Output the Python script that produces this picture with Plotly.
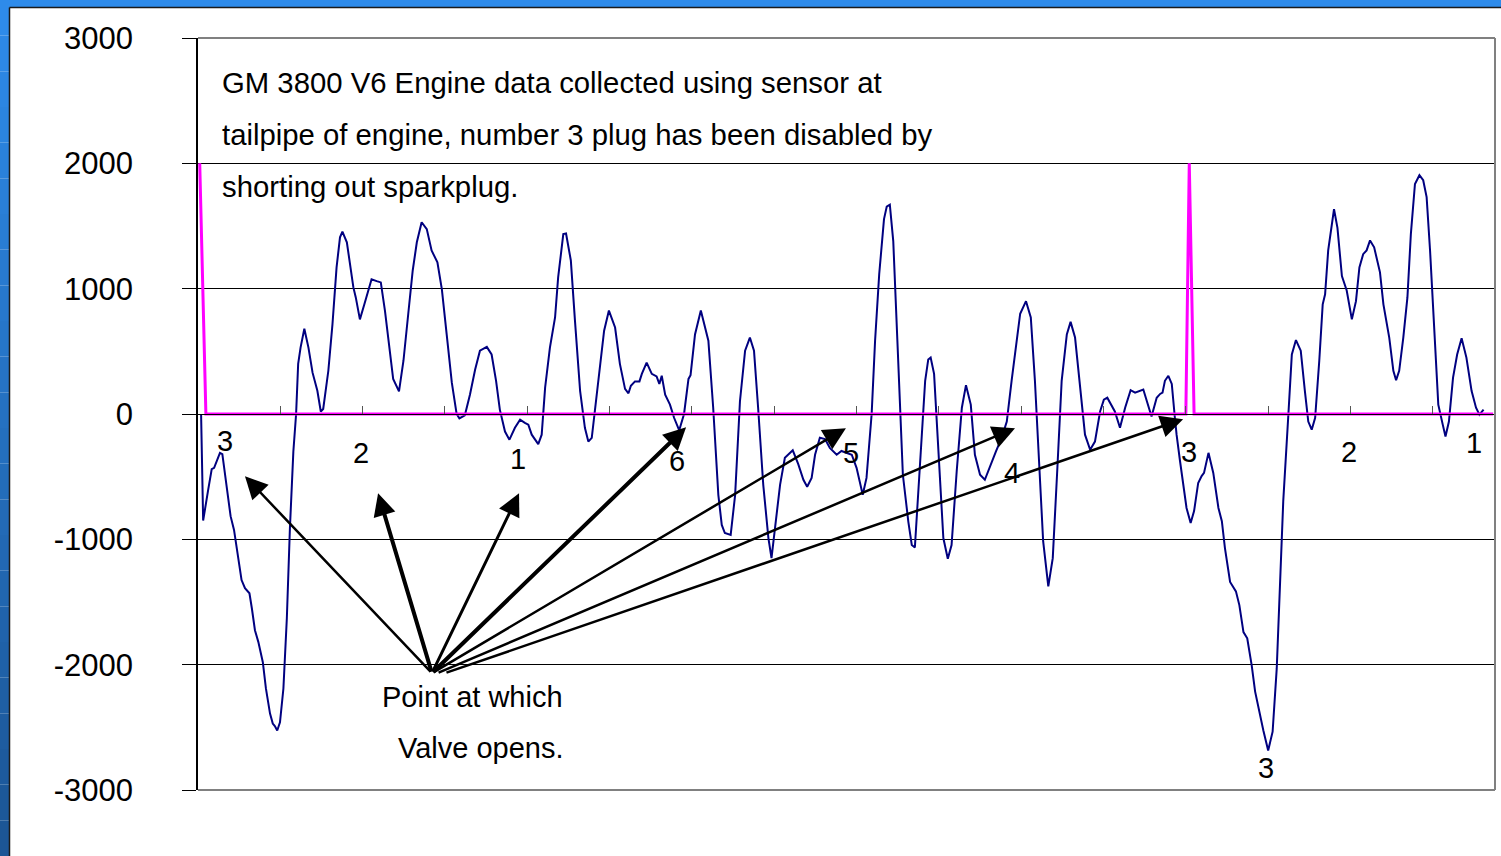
import plotly.graph_objects as go

# exhaust pressure sensor trace (blue), sample number vs. reading
sample = [
    0.9, 1.5, 3.0, 4.0, 4.7, 5.5, 6.4, 7.1, 8.4, 9.5, 10.5, 11.3, 12.7, 13.7, 15.0, 15.7,
    16.6, 17.6, 18.9, 19.8, 21.0, 21.8, 22.4, 23.1, 23.9, 24.9, 25.9, 26.8, 27.8, 28.6,
    29.2, 29.9, 31.0, 32.2, 33.4, 34.8, 35.8, 36.5, 38.0, 39.2, 40.4, 41.4, 42.1, 43.4,
    44.3, 45.3, 46.0, 47.2, 48.5, 49.7, 50.6, 52.1, 53.3, 54.5, 55.8, 56.9, 58.6, 59.9,
    61.3, 62.6, 63.8, 65.2, 66.7, 68.1, 69.8, 71.1, 72.5, 74.0, 75.4, 76.2, 77.8, 79.3,
    80.8, 82.2, 84.2, 85.6, 86.9, 88.0, 89.5, 90.8, 92.4, 93.9, 95.3, 96.3, 97.3, 99.2,
    100.2, 101.2, 102.6, 104.1, 105.0, 106.5, 107.3, 108.7, 109.9, 111.4, 112.8, 113.8,
    114.8, 115.7, 117.0, 118.4, 119.8, 121.6, 123.0, 124.5, 125.5, 126.2, 127.4, 128.7,
    129.4, 130.8, 132.3, 133.7, 134.5, 135.2, 136.2, 137.6, 138.8, 140.3, 141.7, 143.0,
    143.6, 144.9, 146.6, 148.8, 150.2, 151.7, 152.7, 153.6, 155.3, 156.6, 158.0, 159.5,
    160.9, 162.1, 163.3, 164.8, 166.3, 167.2, 169.7, 171.1, 173.4, 175.0, 176.5, 177.6,
    178.9, 179.9, 181.3, 182.8, 184.2, 186.2, 187.6, 189.1, 190.6, 192.0, 193.5, 193.8,
    194.9, 196.4, 197.4, 198.6, 200.0, 200.8, 201.7, 202.7, 203.9, 205.5, 207.1, 208.1,
    209.0, 210.5, 212.0, 212.9, 213.6, 214.6, 215.8, 217.3, 218.6, 219.7, 221.2, 222.7,
    223.9, 225.3, 226.5, 228.0, 229.4, 230.9, 232.7, 234.3, 235.8, 237.2, 238.7, 239.7,
    241.4, 242.8, 244.0, 245.3, 246.4, 247.9, 249.2, 250.5, 251.8, 253.3, 254.4, 255.7,
    257.1, 258.6, 260.1, 261.5, 263.0, 264.1, 265.1, 267.3, 268.8, 270.3, 271.9, 273.2,
    275.6, 277.1, 278.0, 279.5, 280.5, 281.2, 281.9, 282.9, 283.9, 284.8, 285.3, 286.3,
    287.3, 288.2, 289.4, 290.4, 291.6, 292.6, 293.3, 294.6, 296.0, 297.5, 298.5, 299.4,
    300.9, 302.6, 303.6, 304.8, 305.9, 307.2, 308.2, 309.4, 310.6, 312.0, 313.3, 314.5,
    315.5, 316.4, 317.9, 318.9, 320.1, 321.5, 322.7, 323.7, 324.7, 325.7, 326.9, 327.9,
    328.6, 329.5, 331.2, 332.2, 333.5, 334.9, 336.4, 337.6, 338.6, 339.7, 340.7, 341.7,
    342.9, 344.6, 345.6, 347.3, 348.5, 349.3, 350.2, 351.4, 352.6, 353.6, 354.8, 356.1,
    357.2, 358.2, 359.2, 360.3, 361.6, 362.9, 363.7, 364.7, 365.9, 367.1, 368.4, 369.8,
    371.3, 372.6, 373.6, 374.8,
]
reading = [
    0, -850, -600, -440, -430, -375, -310, -320, -590, -815, -925, -1070, -1325, -1390, -1430, -1550,
    -1725, -1820, -1980, -2190, -2390, -2470, -2490, -2525, -2460, -2190, -1630, -910, -300, 0,
    400, 530, 680, 530, 330, 185, 20, 40, 345, 715, 1170, 1410, 1455, 1370,
    1195, 1010, 930, 755, 875, 995, 1075, 1060, 1050, 825, 505, 280, 180, 425,
    800, 1145, 1370, 1530, 1475, 1305, 1210, 995, 635, 250, 0, -35, -10, 155,
    355, 505, 535, 475, 265, 35, -140, -205, -110, -45, -70, -85, -165, -240,
    -165, 210, 530, 770, 1090, 1435, 1440, 1225, 745, 185, -110, -220,
    -190, 25, 320, 665, 825, 690, 400, 200, 165, 225, 260, 260,
    320, 410, 320, 300, 240, 305, 155, 75, -30, -130, 0, 280,
    310, 635, 825, 585, 50, -645, -885, -950, -965, -645, 100, 505,
    610, 505, 50, -565, -990, -1150, -565, -350, -290, -400, -525, -580,
    -510, -325, -190, -200, -270, -325, -295, -310, -325, -430, -615, -645,
    -510, 0, 585, 1115, 1555, 1655, 1670, 1380, 585, -485, -860, -1045,
    -1065, -405, 265, 435, 450, 320, -270, -990, -1155, -1045, -455, 50,
    230, 75, -325, -485, -525, -415, -295, -190, -60, 265, 585, 800,
    900, 770, 265, -405, -1015, -1375, -1150, -455, 265, 635, 735, 610,
    210, -165, -285, -220, 20, 115, 130, 20, -110, 50, 190, 170,
    195, 50, -20, 130, 160, 170, 265, 305, 240, -30, -165, -375,
    -565, -750, -870, -775, -550, -495, -470, -310, -470, -750, -855, -1070,
    -1340, -1415, -1525, -1740, -1790, -2005, -2215, -2375, -2525, -2685, -2535, -2030,
    -1285, -695, 0, 475, 590, 505, 185, -60, -125, -30, 425, 875,
    955, 1305, 1635, 1485, 1100, 985, 755, 900, 1170, 1275, 1305, 1385,
    1330, 1130, 875, 610, 345, 270, 345, 610, 930, 1435, 1835, 1905,
    1865, 1730, 1305, 690, 75, -85, -180, -60, 290, 475, 605, 450,
    185, 50, -5, 35,
]

# trigger pulse on the no. 3 plug wire (magenta)
trig_sample = [0.5, 2.3, 288.0, 289.0, 290.4, 377.6]
trig_level = [2000, 0, 0, 2000, 0, 0]

y_ticks = [3000, 2000, 1000, 0, -1000, -2000, -3000]
x_ticks = [24 * k for k in range(1, 16)]

note_lines = [
    "GM 3800 V6 Engine data collected using sensor at",
    "tailpipe of engine, number 3 plug has been disabled by",
    "shorting out sparkplug.",
]
note_y = [2647, 2232, 1817]

cyl_labels = ["3", "2", "1", "6", "5", "4", "3", "2", "1", "3"]
cyl_x = [7.9, 47.5, 93.3, 139.7, 190.4, 237.3, 288.9, 335.6, 372.0, 311.4]
cyl_y = [-217, -313, -360, -377, -313, -472, -305, -305, -233, -2823]

tip_x = [13.7, 52.5, 93.6, 142.3, 188.9, 238.2, 287.2]
tip_y = [-497, -632, -632, -105, -113, -113, -41]
tail_x = [68.2, 68.2, 68.2, 68.2, 68.2, 69.7, 72.0]
tail_y = [-2068] * 7
arrow_w = [2.5, 4, 3, 4, 2.5, 2.5, 2.5]

FONT = "Liberation Sans, Arial, sans-serif"
W, H = 1501, 856
L, R, T, B = 198, 6, 38, 66


def px(x):
    return (x - L) / (W - L - R)


def py(y):
    return (H - B - y) / (H - T - B)


fig = go.Figure()
fig.add_trace(go.Scatter(x=sample, y=reading, mode="lines",
                         line=dict(color="#000080", width=2), hoverinfo="skip"))
fig.add_trace(go.Scatter(x=trig_sample, y=trig_level, mode="lines",
                         line=dict(color="#FF00FF", width=3), hoverinfo="skip"))

shapes = []
# slide background strips (blue, darker toward the bottom)
shapes.append(dict(type="rect", xref="paper", yref="paper", x0=px(0), x1=px(W), y0=py(8), y1=py(0),
                   fillcolor="#2E8BEA", line_width=0, layer="below"))
n = 24
for i in range(n):
    f = i / (n - 1)
    r = int(0x2E + (0x1C - 0x2E) * f)
    g = int(0x8B + (0x56 - 0x8B) * f)
    b = int(0xEA + (0x96 - 0xEA) * f)
    shapes.append(dict(type="rect", xref="paper", yref="paper", x0=px(0), x1=px(10),
                       y0=py(H * (i + 1) / n), y1=py(H * i / n),
                       fillcolor=f"rgb({r},{g},{b})", line_width=0, layer="below"))
shapes.append(dict(type="line", xref="paper", yref="paper", x0=px(9.5), x1=px(W), y0=py(7.5), y1=py(7.5),
                   line=dict(color="#1a1a1a", width=1.5)))
shapes.append(dict(type="line", xref="paper", yref="paper", x0=px(9.5), x1=px(9.5), y0=py(7.5), y1=py(H),
                   line=dict(color="#1a1a1a", width=1.5)))
# plot frame: top, right, bottom
for x0, y0, x1, y1 in [(0, 1, 1, 1), (1, 0, 1, 1), (0, 0, 1, 0)]:
    shapes.append(dict(type="line", xref="paper", yref="paper", x0=x0, y0=y0, x1=x1, y1=y1,
                       line=dict(color="#808080", width=2)))

annotations = []
for txt, yy in zip(note_lines, note_y):
    annotations.append(dict(x=6.4, y=yy, xref="x", yref="y", text=txt, showarrow=False,
                            xanchor="left", yanchor="middle", font=dict(family=FONT, size=29.3, color="black")))
for txt, xx, yy in zip(cyl_labels, cyl_x, cyl_y):
    annotations.append(dict(x=xx, y=yy, xref="x", yref="y", text=txt, showarrow=False,
                            xanchor="center", yanchor="middle", font=dict(family=FONT, size=29, color="black")))
annotations.append(dict(x=79.9, y=-2254, xref="x", yref="y", text="Point at which", showarrow=False,
                        font=dict(family=FONT, size=29, color="black")))
annotations.append(dict(x=82.5, y=-2661, xref="x", yref="y", text="Valve opens.", showarrow=False,
                        font=dict(family=FONT, size=29, color="black")))
for xt, yt, xa, ya, w in zip(tip_x, tip_y, tail_x, tail_y, arrow_w):
    annotations.append(dict(x=xt, y=yt, ax=xa, ay=ya, xref="x", yref="y", axref="x", ayref="y",
                            text="", showarrow=True, arrowhead=2, arrowsize=13.5 / w / 3.0,
                            arrowwidth=w, arrowcolor="black", standoff=0, startstandoff=0))

fig.update_layout(
    width=W, height=H,
    margin=dict(l=L, r=R, t=T, b=B, pad=0),
    paper_bgcolor="white", plot_bgcolor="white",
    showlegend=False,
    font=dict(family=FONT, color="black"),
    xaxis=dict(range=[0, (W - L - R) / 3.43], anchor="free", position=0.5, side="bottom",
               showline=True, linecolor="black", linewidth=1,
               tickvals=x_ticks, ticks="inside", ticklen=8, tickcolor="#555", tickwidth=1,
               showticklabels=False, showgrid=False, zeroline=False),
    yaxis=dict(range=[-3000, 3000], tickvals=y_ticks, ticktext=[str(v) for v in y_ticks],
               showline=True, linecolor="black", linewidth=1.5,
               ticks="outside", ticklen=14, tickcolor="black", tickwidth=1,
               tickfont=dict(family=FONT, size=31, color="black"), ticklabelstandoff=43,
               showgrid=True, gridcolor="black", gridwidth=1, zeroline=False),
    shapes=shapes,
    annotations=annotations,
)

fig.write_html("out.html", config={"displayModeBar": False},
               post_script="document.body.style.margin='0px';document.body.style.overflow='hidden';")
